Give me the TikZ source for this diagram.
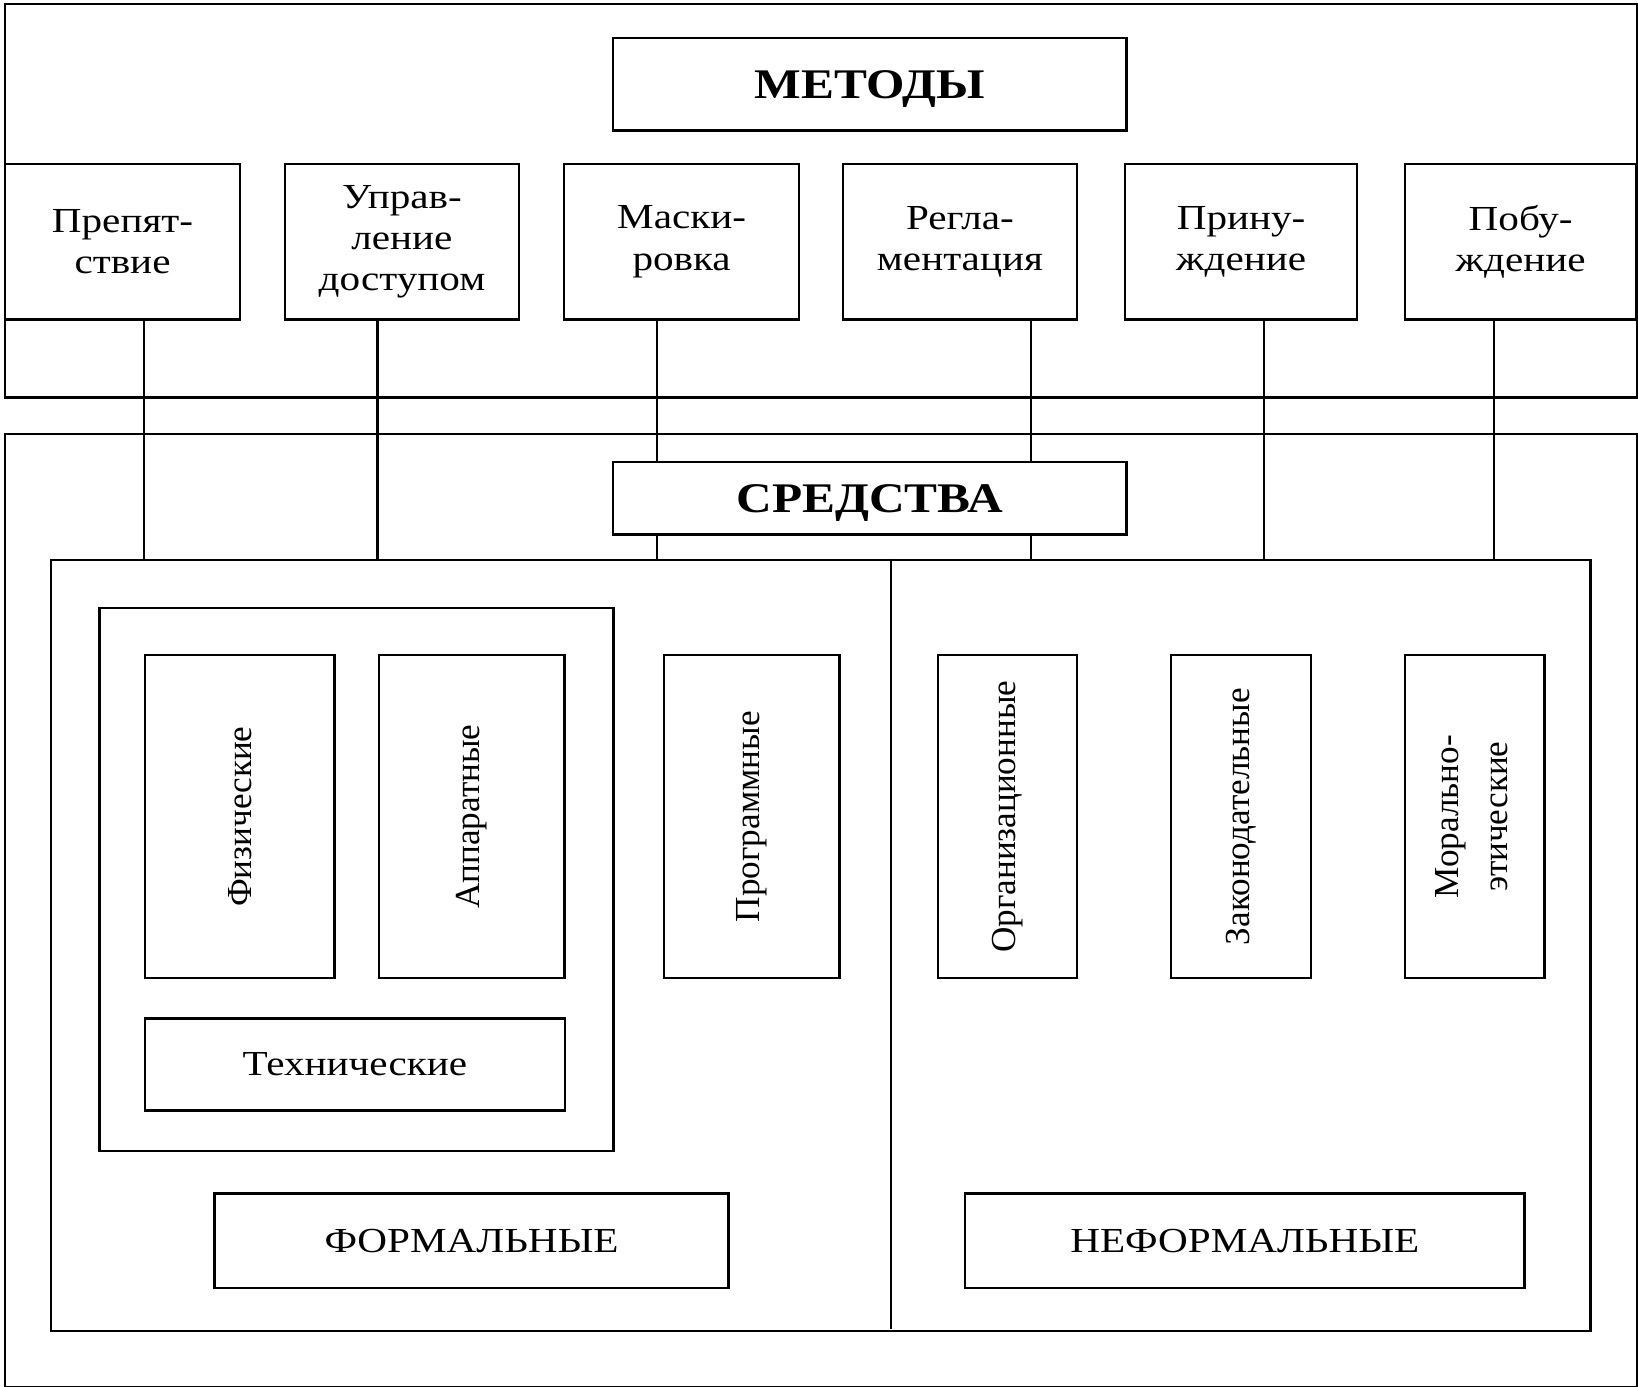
\documentclass[tikz,border=0pt]{standalone}
\usepackage{fontspec}
\setmainfont{Liberation Serif}
% slightly extended face for the horizontal captions
\newfontfamily\widefont[FakeStretch=1.17]{Liberation Serif}
\begin{document}
\begin{tikzpicture}[x=0.01cm, y=-0.01cm, line width=0.7pt,
  frame/.style={draw, rectangle, inner sep=0pt, anchor=north west},
  box/.style={draw, rectangle, inner sep=0pt, anchor=north west, align=center,
    font=\widefont\fontsize{10}{11.8}\selectfont},
  headbox/.style={box, text depth=0pt, font=\widefont\bfseries\fontsize{12}{14}\selectfont},
  vbox/.style={draw, rectangle, inner sep=0pt, anchor=north west,
    font=\fontsize{10}{12}\selectfont},
  link/.style={draw}]
\useasboundingbox (0,0) rectangle (1638,1387);

% ---- methods block ----
\node[frame, minimum width=16.31cm, minimum height=3.93cm] (metframe) at (4,3) {};
\node[headbox, minimum width=5.13cm, minimum height=0.92cm] (metody) at (612,37) {МЕТОДЫ};

\node[box, minimum width=2.345cm, minimum height=1.55cm] (prep) at (4,163) {Препят-\\ствие};
\node[box, minimum width=2.343cm, minimum height=1.55cm] (upr)  at (283.5,163) {Управ-\\ление\\доступом};
\node[box, minimum width=2.346cm, minimum height=1.55cm] (mask) at (563,163) {Маски-\\ровка};
\node[box, minimum width=2.343cm, minimum height=1.55cm] (regl) at (841.5,163) {Регла-\\ментация};
\node[box, minimum width=2.317cm, minimum height=1.55cm] (prin) at (1124,163) {Прину-\\ждение};
\node[box, minimum width=2.312cm, minimum height=1.55cm] (pob)  at (1403.8,163) {Побу-\\ждение};

% ---- means block ----
\node[frame, minimum width=16.31cm, minimum height=9.53cm] (sredframe) at (4,432.5) {};
\node[headbox, minimum width=5.13cm, minimum height=0.72cm] (sredstva) at (612,461) {СРЕДСТВА};

\node[frame, minimum width=15.387cm, minimum height=7.707cm] (inner) at (49.7,558.6) {};
\coordinate (dtop) at (891,558.6);
\coordinate (dbot) at (891,1329.3);
\draw (dtop) -- (dbot);

% formal means
\node[frame, minimum width=5.137cm, minimum height=5.425cm] (techgrp) at (98.3,606.8) {};
\node[vbox, minimum width=1.892cm, minimum height=3.227cm] (fiz) at (143.8,654) {\rotatebox{90}{Физические}};
\node[vbox, minimum width=1.857cm, minimum height=3.227cm] (app) at (377.6,654) {\rotatebox{90}{Аппаратные}};
\node[box, minimum width=4.195cm, minimum height=0.92cm] (tech) at (143.8,1017.3) {Технические};
\node[vbox, minimum width=1.75cm, minimum height=3.227cm] (prog) at (663,654) {\rotatebox{90}{Программные}};
\node[box, minimum width=5.136cm, minimum height=0.944cm] (formal) at (213.4,1192.3) {ФОРМАЛЬНЫЕ};

% informal means
\node[vbox, minimum width=1.391cm, minimum height=3.227cm] (org) at (936.7,654) {\rotatebox{90}{Организационные}};
\node[vbox, minimum width=1.396cm, minimum height=3.227cm] (zak) at (1170,654) {\rotatebox{90}{Законодательные}};
\node[vbox, minimum width=1.396cm, minimum height=3.227cm] (mor) at (1403.8,654)
  {\rotatebox{90}{\begin{tabular}{@{}c@{}}Морально-\\[2pt]этические\end{tabular}}};
\node[box, minimum width=5.59cm, minimum height=0.944cm] (neformal) at (964,1192.3) {НЕФОРМАЛЬНЫЕ};

% ---- links from methods to means ----
\coordinate (c1) at (143.8,558.6);
\coordinate (c2) at (377.6,558.6);
\coordinate (c3) at (657,558.6);
\coordinate (c4) at (1030.9,558.6);
\coordinate (c5) at (1264,558.6);
\coordinate (c6) at (1494,558.6);
\draw[link] (prep.south -| c1) -- (c1);
\draw[link] (upr.south -| c2) -- (c2);
\draw[link] (mask.south -| c3) -- (sredstva.north -| c3);
\draw[link] (sredstva.south -| c3) -- (c3);
\draw[link] (regl.south -| c4) -- (sredstva.north -| c4);
\draw[link] (sredstva.south -| c4) -- (c4);
\draw[link] (prin.south -| c5) -- (c5);
\draw[link] (pob.south -| c6) -- (c6);
\end{tikzpicture}
\end{document}
